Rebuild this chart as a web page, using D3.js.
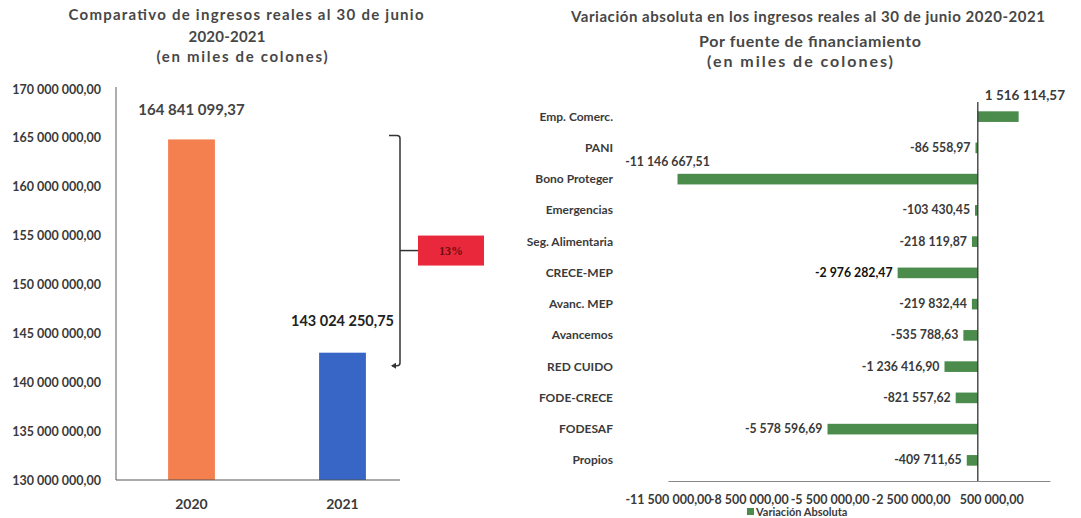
<!DOCTYPE html>
<html>
<head>
<meta charset="utf-8">
<script src="https://d3js.org/d3.v7.min.js"></script>
<style>
  body { margin: 0; background: #fff; }
  text { font-family: Lato, "Open Sans", sans-serif; fill: #3a3a3a; }
  .title { font-size: 15px; font-weight: bold; fill: #474747; }
  .tick text { font-size: 12.5px; font-weight: bold; fill: #3a3a3a; }
  .val { font-weight: bold; }
  .cat { font-size: 12px; font-weight: bold; }
</style>
</head>
<body>
<script>
// ---- data
var years = ["2020", "2021"];
var ingresos = [164841099.37, 143024250.75];
var yTicksLeft = [130e6, 135e6, 140e6, 145e6, 150e6, 155e6, 160e6, 165e6, 170e6];

var fuentes = ["Emp. Comerc.", "PANI", "Bono Proteger", "Emergencias", "Seg. Alimentaria",
  "CRECE-MEP", "Avanc. MEP", "Avancemos", "RED CUIDO", "FODE-CRECE", "FODESAF", "Propios"];
var variacion = [1516114.57, -86558.97, -11146667.51, -103430.45, -218119.87,
  -2976282.47, -219832.44, -535788.63, -1236416.90, -821557.62, -5578596.69, -409711.65];
var xTicksRight = [-11500000, -8500000, -5500000, -2500000, 500000];

var es = d3.formatLocale({ decimal: ",", thousands: " ", grouping: [3], currency: ["", ""], minus: "-" });
var fmt = es.format(",.2f");

var svg = d3.select("body").append("svg")
  .attr("width", 1081)
  .attr("height", 518);

// titles are letter-spaced in the original, so stretch the spacing only
function title(g, txt, x, y, len, size) {
  g.append("text").attr("class", "title")
    .attr("x", x - len / 2).attr("y", y)
    .attr("textLength", len).attr("lengthAdjust", "spacing")
    .style("font-size", (size || 15) + "px")
    .text(txt);
}

// ================= left chart
var yL = d3.scaleLinear().domain([130e6, 170e6]).range([480, 89]);
var xL = d3.scaleBand().domain(years).range([116, 418]).paddingInner(0.69).paddingOuter(0.345);
var colors = ["#f47f4f", "#3766c6"];

var left = svg.append("g");

title(left, "Comparativo de ingresos reales al 30 de junio", 246, 20, 355);
title(left, "2020-2021", 227, 42, 77);
title(left, "(en miles de colones)", 242, 62, 171);

var yAxisL = left.append("g")
  .attr("transform", "translate(116,0)")
  .call(d3.axisLeft(yL).tickValues(yTicksLeft).tickSize(0).tickPadding(15).tickFormat(fmt));
yAxisL.select(".domain").remove();

left.append("line").attr("x1", 116).attr("x2", 116).attr("y1", 87).attr("y2", 480)
  .attr("stroke", "#777").attr("stroke-width", 1.2);

left.selectAll("rect.bar")
  .data(years)
  .enter().append("rect")
  .attr("class", "bar")
  .attr("x", d => xL(d))
  .attr("width", xL.bandwidth())
  .attr("y", (d, i) => yL(ingresos[i]))
  .attr("height", (d, i) => yL(130e6) - yL(ingresos[i]))
  .attr("fill", (d, i) => colors[i]);

left.append("line").attr("x1", 116).attr("x2", 400).attr("y1", 480).attr("y2", 480)
  .attr("stroke", "#555").attr("stroke-width", 1.2);

left.selectAll("text.year")
  .data(years)
  .enter().append("text")
  .attr("class", "val")
  .attr("x", d => xL(d) + xL.bandwidth() / 2)
  .attr("y", 509)
  .attr("text-anchor", "middle")
  .style("font-size", "14px")
  .text(d => d);

left.selectAll("text.lbl")
  .data(years)
  .enter().append("text")
  .attr("class", "val")
  .attr("x", d => xL(d) + xL.bandwidth() / 2)
  .attr("y", (d, i) => yL(ingresos[i]) - (i === 0 ? 24 : 27))
  .attr("text-anchor", "middle")
  .style("font-size", (d, i) => i === 0 ? "15px" : "14.5px")
  .style("fill", (d, i) => i === 0 ? "#444" : "#222")
  .text((d, i) => fmt(ingresos[i]));

// bracket between the two bars
var bTop = yL(ingresos[0]) - 4, bBot = yL(ingresos[1]) + 13, bx = 400;
var bMid = (bTop + bBot) / 2;
left.append("path")
  .attr("d", "M389," + bTop + " L" + (bx - 3) + "," + bTop + " Q" + bx + "," + bTop + " " + bx + "," + (bTop + 3) +
    " L" + bx + "," + (bBot - 3) + " Q" + bx + "," + bBot + " " + (bx - 3) + "," + bBot + " L392," + bBot)
  .attr("fill", "none").attr("stroke", "#333").attr("stroke-width", 1.5);
left.append("path")
  .attr("d", "M391," + bBot + " L396," + (bBot - 3) + " L396," + (bBot + 3) + " Z")
  .attr("fill", "#333");
left.append("line").attr("x1", bx).attr("x2", 418).attr("y1", bMid).attr("y2", bMid)
  .attr("stroke", "#333").attr("stroke-width", 1.5);
left.append("rect").attr("x", 418).attr("y", bMid - 15).attr("width", 66).attr("height", 30)
  .attr("fill", "#e9283c");
left.append("text").attr("x", 451).attr("y", bMid + 4).attr("text-anchor", "middle")
  .style("font-family", "'Liberation Serif', serif").style("font-size", "12px").style("font-weight", "bold")
  .style("fill", "#6a1010")
  .text(d3.format(".0%")(1 - ingresos[1] / ingresos[0]));

// ================= right chart
var xR = d3.scaleLinear().domain([-11500000, 2680000]).range([668, 1050]);
var yR = d3.scaleBand().domain(fuentes).range([101, 476]).paddingInner(0.66).paddingOuter(0.33);
var right = svg.append("g");

title(right, "Variación absoluta en los ingresos reales al 30 de junio 2020-2021", 808, 22, 474);
title(right, "Por fuente de financiamiento", 810, 47, 222, 16);
title(right, "(en miles de colones)", 800, 67, 186, 16);

var xAxisR = right.append("g")
  .attr("transform", "translate(0,481)")
  .call(d3.axisBottom(xR).tickValues(xTicksRight).tickSize(0).tickPadding(14).tickFormat(fmt));
xAxisR.select(".domain").attr("stroke", "#888").attr("stroke-width", 1.2);

right.selectAll("rect.bar")
  .data(fuentes)
  .enter().append("rect")
  .attr("class", "bar")
  .attr("x", (d, i) => Math.min(xR(0), xR(variacion[i])))
  .attr("width", (d, i) => Math.abs(xR(variacion[i]) - xR(0)))
  .attr("y", d => yR(d))
  .attr("height", yR.bandwidth())
  .attr("fill", "#4b8b4c");

right.append("line").attr("x1", xR(0)).attr("x2", xR(0)).attr("y1", 102).attr("y2", 481)
  .attr("stroke", "#333").attr("stroke-width", 1.3);

right.selectAll("text.cat")
  .data(fuentes)
  .enter().append("text")
  .attr("class", "cat")
  .attr("x", 613)
  .attr("y", d => yR(d) + yR.bandwidth() / 2 + 4)
  .attr("text-anchor", "end")
  .text(d => d);

right.selectAll("text.val")
  .data(fuentes)
  .enter().append("text")
  .attr("class", "val")
  .style("font-size", (d, i) => i === 0 ? "13.5px" : "12.3px")
  .attr("x", (d, i) => {
    if (i === 0) return xR(0) + 7;
    if (i === 2) return xR(variacion[i]) - 10;
    return xR(variacion[i]) - 5;
  })
  .attr("y", (d, i) => {
    var c = yR(d) + yR.bandwidth() / 2 + 4;
    if (i === 0) return c - 21;
    if (i === 2) return c - 17;
    return c;
  })
  .attr("text-anchor", (d, i) => i === 0 ? "start" : (i === 2 ? "middle" : "end"))
  .style("fill", (d, i) => i === 5 ? "#111" : "#3a3a3a")
  .text((d, i) => fmt(variacion[i]));

// legend
right.append("rect").attr("x", 747).attr("y", 508).attr("width", 7).attr("height", 7).attr("fill", "#4b8b4c");
right.append("text").attr("x", 756).attr("y", 516).style("font-size", "11px").style("font-weight", "bold")
  .text("Variación Absoluta");
</script>
</body>
</html>
